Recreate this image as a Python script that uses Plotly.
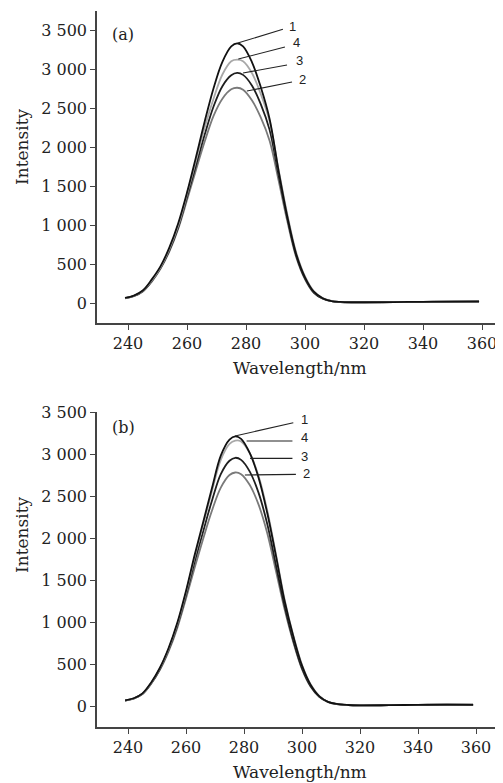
import plotly.graph_objects as go

# ---------------- data ----------------
wavelength = [239, 242, 245, 248, 251, 254, 257, 260, 263, 266, 269, 272, 275, 277, 279,
              282, 285, 288, 291, 294, 297, 300, 303, 306, 309, 312, 316, 320, 330, 340, 350, 359]

a_curve1 = [65, 95, 160, 300, 470, 710, 1020, 1416, 1864, 2328, 2755, 3093, 3291, 3330, 3290,
            3090, 2770, 2360, 1705, 1110, 630, 330, 145, 62, 25, 14, 10, 10, 12, 16, 18, 20]
a_curve4 = [63, 92, 155, 285, 455, 690, 990, 1390, 1820, 2250, 2620, 2930, 3100, 3120, 3100,
            2950, 2680, 2330, 1720, 1140, 650, 340, 150, 64, 26, 14, 10, 10, 12, 16, 18, 20]
a_curve3 = [62, 90, 152, 280, 448, 675, 970, 1360, 1760, 2160, 2520, 2780, 2920, 2950, 2925,
            2790, 2550, 2220, 1650, 1090, 610, 315, 135, 58, 24, 13, 9, 9, 11, 15, 17, 19]
a_curve2 = [60, 88, 148, 272, 438, 660, 950, 1320, 1700, 2070, 2400, 2620, 2740, 2760, 2735,
            2600, 2380, 2080, 1580, 1050, 590, 305, 130, 56, 23, 12, 9, 9, 11, 15, 17, 19]

b_curve1 = [68, 92, 150, 280, 455, 690, 990, 1370, 1800, 2200, 2600, 2980, 3170, 3210, 3180,
            3010, 2720, 2300, 1790, 1250, 830, 480, 250, 115, 50, 24, 12, 8, 10, 14, 16, 15]
b_curve4 = [66, 90, 147, 275, 448, 680, 975, 1350, 1775, 2170, 2565, 2930, 3120, 3160, 3150,
            3010, 2740, 2330, 1810, 1270, 840, 490, 255, 118, 51, 24, 12, 8, 10, 14, 16, 15]
b_curve3 = [65, 89, 145, 270, 440, 670, 960, 1320, 1720, 2090, 2450, 2760, 2920, 2955, 2930,
            2790, 2540, 2170, 1680, 1190, 780, 450, 235, 110, 48, 23, 11, 8, 10, 13, 15, 14]
b_curve2 = [64, 88, 142, 265, 430, 650, 930, 1280, 1650, 2000, 2330, 2600, 2750, 2780, 2760,
            2630, 2400, 2060, 1610, 1150, 760, 440, 230, 108, 47, 22, 11, 8, 10, 13, 15, 14]

x_tick_vals = [240, 260, 280, 300, 320, 340, 360]
y_tick_vals = [0, 500, 1000, 1500, 2000, 2500, 3000, 3500]
y_tick_text = ["0", "500", "1 000", "1 500", "2 000", "2 500", "3 000", "3 500"]

curve_names = ["2", "3", "4", "1"]
curve_colors = {"1": "#111111", "4": "#a8a8a8", "3": "#1e1e1e", "2": "#7a7a7a"}

panel_a = {"1": a_curve1, "2": a_curve2, "3": a_curve3, "4": a_curve4}
panel_b = {"1": b_curve1, "2": b_curve2, "3": b_curve3, "4": b_curve4}

# leader lines: (label, from_x, from_y, to_x, to_y, text_x, text_y)
labels_a = [("1", 277.2, 3333, 292.5, 3509, 295.9, 3540),
            ("4", 277.4, 3128, 293.2, 3282, 297.0, 3335),
            ("3", 279.0, 2949, 293.9, 3051, 298.3, 3115),
            ("2", 280.3, 2718, 295.6, 2833, 299.3, 2860)]
labels_b = [("1", 276.9, 3214, 297.0, 3373, 301.0, 3405),
            ("4", 280.9, 3155, 296.7, 3155, 301.0, 3194),
            ("3", 282.1, 2948, 296.7, 2948, 301.0, 2968),
            ("2", 280.3, 2750, 297.9, 2758, 301.6, 2762)]

# ---------------- figure ----------------
OFF = 8                 # default page body margin
W, H = 503 - OFF, 783 - OFF
left_px, top_px, bottom_px = 97, 11, 727   # page pixel positions of plot area
m_l = left_px - OFF
m_t = top_px - OFF
m_b = 783 - bottom_px
plot_w = W - m_l
plot_h = H - m_t - m_b

def ydom(t, b):
    return [(bottom_px - b) / plot_h, (bottom_px - t) / plot_h]

def px_x(p):
    return (p - left_px) / plot_w

def px_y(p):
    return (bottom_px - p) / plot_h

fig = go.Figure()
for name in curve_names:
    fig.add_trace(go.Scatter(x=wavelength, y=panel_a[name], mode="lines",
                             line=dict(color=curve_colors[name], width=1.8, shape="spline"),
                             xaxis="x", yaxis="y", showlegend=False))
for name in curve_names:
    fig.add_trace(go.Scatter(x=wavelength, y=panel_b[name], mode="lines",
                             line=dict(color=curve_colors[name], width=1.8, shape="spline"),
                             xaxis="x2", yaxis="y2", showlegend=False))

serif = "DejaVu Serif"
tickfont = dict(family=serif, size=16, color="#222")
axis_common = dict(showline=True, linecolor="#444", linewidth=1.5, ticks="outside",
                   ticklen=5, tickwidth=1.3, tickcolor="#444", showgrid=False,
                   zeroline=False, tickfont=tickfont, automargin=False, fixedrange=True)

# x range: 240 at page px 128, 59 px per 20 nm (a); 58 px per 20 nm (b)
xa0 = 240 - (128 - left_px) / 2.95
xb0 = 240 - (128 - left_px) / 2.90

fig.update_layout(
    width=W, height=H,
    margin=dict(l=m_l, r=0, t=m_t, b=m_b),
    paper_bgcolor="white", plot_bgcolor="white",
    xaxis=dict(axis_common, range=[xa0, xa0 + plot_w / 2.95], tickvals=x_tick_vals, anchor="y"),
    yaxis=dict(axis_common, range=[-256, 3744], tickvals=y_tick_vals, ticktext=y_tick_text,
               domain=ydom(11, 323), anchor="x"),
    xaxis2=dict(axis_common, range=[xb0, xb0 + plot_w / 2.90], tickvals=x_tick_vals, anchor="y2"),
    yaxis2=dict(axis_common, range=[-250, 3500], tickvals=y_tick_vals, ticktext=y_tick_text,
                domain=ydom(412, 727), anchor="x2"),
)

annotations = []
shapes = []
for labs, xr, yr in ((labels_a, "x", "y"), (labels_b, "x2", "y2")):
    for lab, x0, y0, x1, y1, tx, ty in labs:
        shapes.append(dict(type="line", xref=xr, yref=yr, x0=x0, y0=y0, x1=x1, y1=y1,
                           line=dict(color="#222", width=1.1)))
        annotations.append(dict(text=lab, xref=xr, yref=yr, x=tx, y=ty, showarrow=False,
                                font=dict(family="Liberation Sans", size=13, color="#222")))

annotations.append(dict(text="(a)", xref="x", yref="y", x=238.2, y=3440, showarrow=False,
                        font=dict(family=serif, size=16, color="#222")))
annotations.append(dict(text="(b)", xref="x2", yref="y2", x=238.5, y=3320, showarrow=False,
                        font=dict(family=serif, size=16, color="#222")))

for ycen in (368, 772):
    annotations.append(dict(text="Wavelength/nm", xref="paper", yref="paper", x=px_x(300),
                            y=px_y(ycen), showarrow=False, xanchor="center", yanchor="middle",
                            font=dict(family=serif, size=17, color="#222")))
for ycen in (147, 535):
    annotations.append(dict(text="Intensity", xref="paper", yref="paper", x=px_x(22),
                            y=px_y(ycen), showarrow=False, textangle=-90, xanchor="center",
                            yanchor="middle", font=dict(family=serif, size=17, color="#222")))

fig.update_layout(annotations=annotations, shapes=shapes)

fig.write_html("out.html")
